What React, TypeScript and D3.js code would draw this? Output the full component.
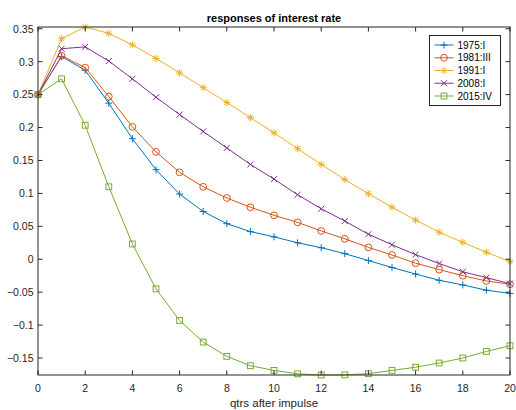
import React from "react";
import * as d3 from "d3";

const steps = d3.range(0, 21);
const seriesNames = ["1975:I", "1981:III", "1991:I", "2008:I", "2015:IV"];
const s1975 = [0.25, 0.308, 0.287, 0.237, 0.183, 0.136, 0.099, 0.0725, 0.054, 0.042, 0.034, 0.025, 0.0175, 0.0085, -0.002, -0.0125, -0.0225, -0.032, -0.039, -0.047, -0.052];
const s1981 = [0.25, 0.309, 0.291, 0.247, 0.201, 0.163, 0.132, 0.110, 0.093, 0.079, 0.0667, 0.056, 0.043, 0.031, 0.018, 0.0065, -0.006, -0.0157, -0.025, -0.033, -0.038];
const s1991 = [0.25, 0.335, 0.3527, 0.343, 0.3255, 0.305, 0.283, 0.2606, 0.238, 0.215, 0.192, 0.168, 0.144, 0.121, 0.0995, 0.079, 0.0595, 0.041, 0.0257, 0.0106, -0.0036];
const s2008 = [0.25, 0.3197, 0.3225, 0.301, 0.274, 0.246, 0.2197, 0.194, 0.169, 0.144, 0.1217, 0.098, 0.0767, 0.058, 0.038, 0.022, 0.007, -0.0065, -0.019, -0.028, -0.037];
const s2015 = [0.25, 0.274, 0.2035, 0.110, 0.0232, -0.045, -0.093, -0.1258, -0.1475, -0.1617, -0.1688, -0.174, -0.1758, -0.1756, -0.1738, -0.1688, -0.164, -0.1576, -0.150, -0.140, -0.1314];
const allSeries = [s1975, s1981, s1991, s2008, s2015];
const xTicks = [0, 2, 4, 6, 8, 10, 12, 14, 16, 18, 20];
const yTicks = [-0.15, -0.1, -0.05, 0, 0.05, 0.1, 0.15, 0.2, 0.25, 0.3, 0.35];
const colors = ["#0072BD", "#D95319", "#EDB120", "#7E2F8E", "#77AC30"];
const markers = ["plus", "circle", "star", "cross", "square"];
const titleText = "responses of interest rate";
const xLabelText = "qtrs after impulse";

const W = 516, H = 410;
const M = { left: 38, right: 510, top: 27, bottom: 375 };
const AX = "#262626";
const FONT = "'Liberation Sans', Arial, Helvetica, sans-serif";

function Marker({ type, x, y, color }: { type: string; x: number; y: number; color: string }) {
  const s = 3.5;
  if (type === "plus") {
    return <path d={`M${x - s},${y}H${x + s}M${x},${y - s}V${y + s}`} stroke={color} strokeWidth={1} fill="none" />;
  }
  if (type === "circle") {
    return <circle cx={x} cy={y} r={3.4} stroke={color} strokeWidth={1} fill="none" />;
  }
  if (type === "cross") {
    const c = 3;
    return <path d={`M${x - c},${y - c}L${x + c},${y + c}M${x - c},${y + c}L${x + c},${y - c}`} stroke={color} strokeWidth={1} fill="none" />;
  }
  if (type === "star") {
    const c = 2.6;
    return (
      <path
        d={`M${x - s},${y}H${x + s}M${x},${y - s}V${y + s}M${x - c},${y - c}L${x + c},${y + c}M${x - c},${y + c}L${x + c},${y - c}`}
        stroke={color}
        strokeWidth={1}
        fill="none"
      />
    );
  }
  const q = 2.9;
  return <rect x={x - q} y={y - q} width={2 * q} height={2 * q} stroke={color} strokeWidth={1} fill="none" />;
}

export default function App() {
  const all = allSeries.flat();
  const x = d3.scaleLinear().domain([0, 20]).range([M.left, M.right]);
  const y = d3.scaleLinear().domain(d3.extent(all) as [number, number]).range([M.bottom, M.top]);
  const line = d3
    .line<number>()
    .x((_, i) => x(steps[i]))
    .y((d) => y(d));
  const tl = 4.5;
  const legX = 429.5, legY = 35.5, legW = 71, legH = 70;
  const legRow = (i: number) => 45 + i * 12.75;

  return (
    <svg width={W} height={H} style={{ position: "absolute", left: 0, top: 0, background: "#fff" }} fontFamily={FONT}>
      <rect x={0} y={0} width={W} height={H} fill="#fff" />
      <defs>
        <clipPath id="plotclip">
          <rect x={M.left - 5} y={M.top - 5} width={M.right - M.left + 10} height={M.bottom - M.top + 10} />
        </clipPath>
      </defs>
      {/* data */}
      <g clipPath="url(#plotclip)">
        {allSeries.map((s, k) => (
          <g key={k}>
            <path d={line(s) || ""} fill="none" stroke={colors[k]} strokeWidth={1} />
            {s.map((v, i) => (
              <Marker key={i} type={markers[k]} x={x(steps[i])} y={y(v)} color={colors[k]} />
            ))}
          </g>
        ))}
      </g>
      {/* box */}
      <rect x={M.left} y={M.top} width={M.right - M.left} height={M.bottom - M.top} fill="none" stroke={AX} strokeWidth={1} />
      {/* x ticks */}
      {xTicks.map((t) => (
        <g key={"x" + t}>
          <line x1={x(t)} x2={x(t)} y1={M.bottom} y2={M.bottom - tl} stroke={AX} />
          <line x1={x(t)} x2={x(t)} y1={M.top} y2={M.top + tl} stroke={AX} />
          <text x={x(t)} y={391.5} textAnchor="middle" fontSize={10.5} fill={AX}>
            {t}
          </text>
        </g>
      ))}
      {yTicks.map((t) => (
        <g key={"y" + t}>
          <line x1={M.left} x2={M.left + tl} y1={y(t)} y2={y(t)} stroke={AX} />
          <line x1={M.right} x2={M.right - tl} y1={y(t)} y2={y(t)} stroke={AX} />
          <text x={33.5} y={y(t) + 3.8} textAnchor="end" fontSize={10.5} fill={AX}>
            {d3.format("~g")(t)}
          </text>
        </g>
      ))}
      <text x={(M.left + M.right) / 2} y={22} textAnchor="middle" fontSize={11} fontWeight="bold" fill="#000">
        {titleText}
      </text>
      <text x={(M.left + M.right) / 2} y={407} textAnchor="middle" fontSize={11.5} fill={AX}>
        {xLabelText}
      </text>
      {/* legend */}
      <rect x={legX} y={legY} width={legW} height={legH} fill="#fff" stroke={AX} strokeWidth={1} />
      {seriesNames.map((n, i) => (
        <g key={n}>
          <line x1={434.5} x2={453.5} y1={legRow(i)} y2={legRow(i)} stroke={colors[i]} strokeWidth={1} />
          <Marker type={markers[i]} x={444} y={legRow(i)} color={colors[i]} />
          <text x={457.5} y={legRow(i) + 3.6} fontSize={10} fill="#000">
            {n}
          </text>
        </g>
      ))}
    </svg>
  );
}
